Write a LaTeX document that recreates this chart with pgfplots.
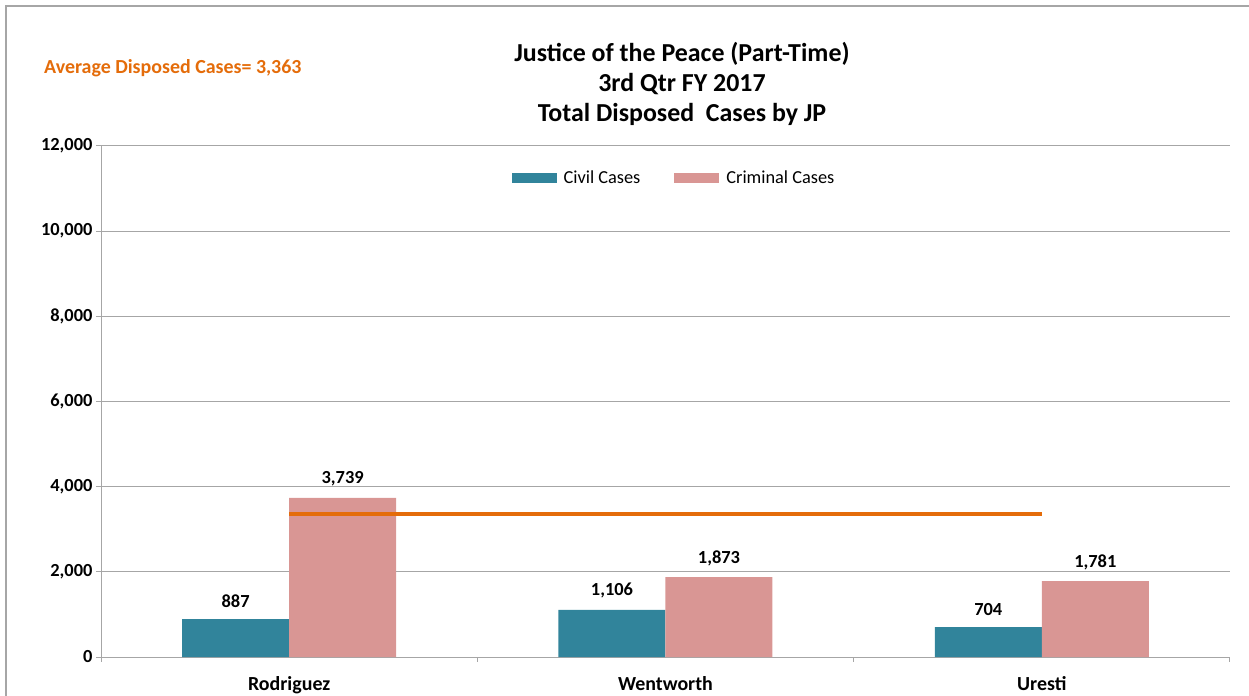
\documentclass[border=0pt]{standalone}
\usepackage{fontspec}
\setmainfont{Carlito}
\usepackage{pgfplots}
\pgfplotsset{compat=1.18}
\definecolor{civil}{HTML}{31849B}
\definecolor{criminal}{HTML}{D99694}
\definecolor{avgorange}{HTML}{E46C0A}
\definecolor{framegray}{HTML}{A6A6A6}
\begin{document}
\begin{tikzpicture}
\useasboundingbox (0bp,0bp) rectangle (1249bp,696bp);
\begin{scope}
\clip (0bp,0bp) rectangle (1249bp,696bp);
\draw[framegray, line width=1.5bp] (6bp,-10bp) -- (6bp,690bp) -- (1260bp,690bp);
\end{scope}
\node[anchor=west, text=avgorange, inner sep=0pt, font=\bfseries\fontsize{20}{24}\selectfont] at (44bp,628bp) {Average Disposed Cases= 3,363};
\node[align=center, font=\bfseries\fontsize{26}{30.5}\selectfont, anchor=center] at (682bp,612bp) {Justice of the Peace (Part-Time)\\3rd Qtr FY 2017\\Total Disposed\ \ Cases by JP};
\begin{axis}[
  at={(101bp,39bp)}, anchor=south west,
  scale only axis, width=1129bp, height=511bp,
  xmin=-0.5, xmax=2.5, ymin=0, ymax=12000,
  ybar=0pt, bar width=107bp,
  xtick={-0.5,0.5,1.5,2.5}, xticklabels={},
  extra x ticks={0,1,2},
  extra x tick labels={Rodriguez,Wentworth,Uresti},
  extra x tick style={major tick length=0pt, grid=none},
  xticklabel style={font=\bfseries\fontsize{20}{24}\selectfont, yshift=-16bp},
  ytick={0,2000,...,12000},
  yticklabel style={font=\bfseries\fontsize{18.5}{22}\selectfont},
  /pgf/number format/1000 sep={,},
  /pgf/number format/assume math mode=true,
  scaled y ticks=false,
  axis x line*=bottom, axis y line*=left,
  tick align=outside, major tick length=5bp,
  ymajorgrids, grid style={framegray, line width=1bp},
  axis line style={framegray, line width=1bp},
  tick style={framegray, line width=1bp},
  clip=false,
  legend columns=2,
  legend style={draw=none, fill=none, at={(0.5075,0.937)}, anchor=center,
    font=\fontsize{18.4}{21}\selectfont,
    /tikz/every even column/.append style={column sep=32bp}},
  legend image code/.code={\fill[#1] (0bp,-5bp) rectangle (45bp,5bp); \path (50bp,0bp);},
  nodes near coords,
  nodes near coords align={vertical},
  every node near coord/.append style={font=\bfseries\fontsize{18.5}{22}\selectfont, text=black, yshift=8bp,
    /pgf/number format/1000 sep={,}, /pgf/number format/assume math mode=true},
]
\addplot[fill=civil, draw=none]
  coordinates {(0,887) (1,1106) (2,704)};
\addlegendentry{Civil Cases}
\addplot[fill=criminal, draw=none]
  coordinates {(0,3739) (1,1873) (2,1781)};
\addlegendentry{Criminal Cases}
\end{axis}
\begin{axis}[
  at={(101bp,39bp)}, anchor=south west,
  scale only axis, width=1129bp, height=511bp,
  xmin=-0.5, xmax=2.5, ymin=0, ymax=12000,
  hide axis, clip=false,
]
\addplot[sharp plot, avgorange, line width=3.5bp]
  coordinates {(0,3363) (2,3363)};
\end{axis}
\end{tikzpicture}
\end{document}
